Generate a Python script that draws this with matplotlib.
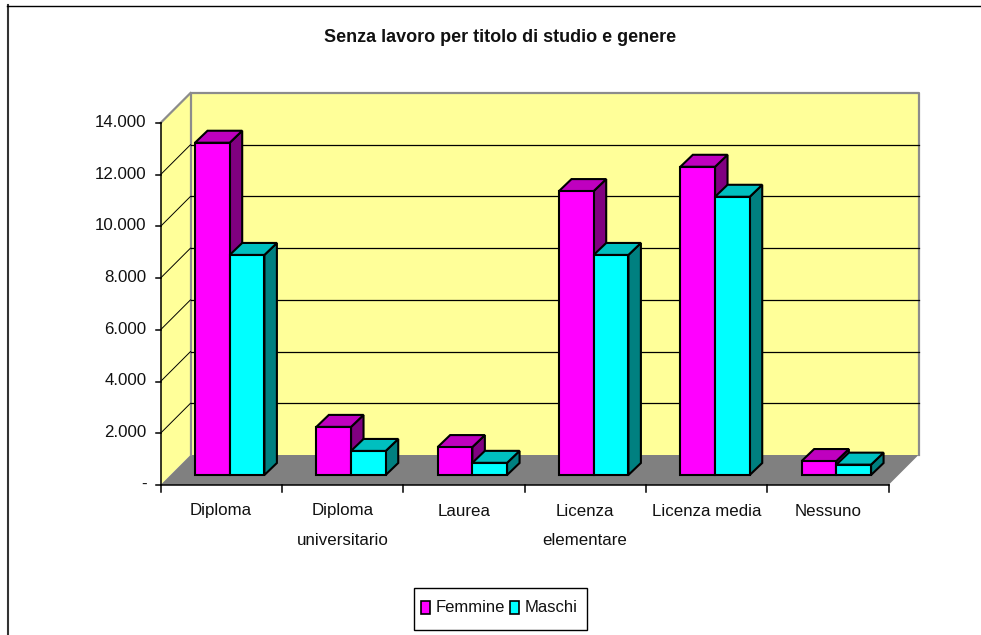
import matplotlib
matplotlib.use('Agg')
import matplotlib.pyplot as plt
from matplotlib.patches import Polygon, Rectangle

categorie = ['Diploma', 'Diploma\nuniversitario', 'Laurea', 'Licenza\nelementare', 'Licenza media', 'Nessuno']
femmine = [12850, 1860, 1080, 10980, 11920, 540]
maschi = [8510, 930, 470, 8510, 10760, 400]
tick_valori = [0, 2000, 4000, 6000, 8000, 10000, 12000, 14000]
tick_label = ['-', '2.000', '4.000', '6.000', '8.000', '10.000', '12.000', '14.000']

W, H = 981, 635
plt.rcParams['font.family'] = ['Liberation Sans', 'DejaVu Sans']

fig = plt.figure(figsize=(W / 100, H / 100), dpi=100)
# piano frontale del grafico, in pixel
left, right, top, bottom = 160.5, 888.5, 123, 485
ax = fig.add_axes([left / W, 1 - bottom / H, (right - left) / W, (bottom - top) / H])
ax.set_xlim(0, 6)
ax.set_ylim(0, 14000)
ax.axis('off')

# pixel -> unita dati
px = 6 / (right - left)
py = 14000 / (bottom - top)
dx, dy = 30 * px, 30 * py  # profondita pareti
bx, by = 12.5 * px, 12 * py  # profondita barre
base = 10 * py  # le barre stanno un po' dentro il pavimento


def poly(pts, color, lw=0.0, ec='black', z=1):
    ax.add_patch(Polygon(pts, closed=True, fc=color, ec=ec, lw=lw, zorder=z, clip_on=False, joinstyle='miter'))


# pareti e pavimento
poly([(0, 0), (dx, dy), (dx, 14000 + dy), (0, 14000)], '#ffff99')
poly([(dx, dy), (6 + dx, dy), (6 + dx, 14000 + dy), (dx, 14000 + dy)], '#ffff99')
poly([(0, 0), (6, 0), (6 + dx, dy), (dx, dy)], '#808080')
ax.plot([dx, dx, 6 + dx, 6 + dx], [dy, 14000 + dy, 14000 + dy, dy], color='#8c8c8c', lw=1.6, zorder=2, clip_on=False)
ax.plot([0, dx], [14000, 14000 + dy], color='#8c8c8c', lw=1.6, zorder=2, clip_on=False)
for v in tick_valori[1:-1]:
    ax.plot([0, dx], [v, v + dy], color='black', lw=0.7, zorder=2, clip_on=False)
    ax.plot([dx, 6 + dx], [v + dy, v + dy], color='black', lw=0.9, zorder=2, clip_on=False)

# assi
ax.plot([0, 0], [0, 14000], color='black', lw=1.1, zorder=3, clip_on=False)
ax.plot([0, 6], [0, 0], color='black', lw=1.1, zorder=3, clip_on=False)
for v, lab in zip(tick_valori, tick_label):
    ax.plot([-5 * px, 0], [v, v], color='black', lw=1.1, zorder=3, clip_on=False)
    ax.text(-14 * px, v + 0.7 * py, lab, ha='right', va='center', fontsize=12.2, color='#111111')
for i in range(7):
    ax.plot([i, i], [0, -6.5 * py], color='black', lw=1.1, zorder=3, clip_on=False)
for i, c in enumerate(categorie):
    ax.text(i + 0.5, -18.5 * py, c, ha='center', va='top', fontsize=12.2, color='#111111', linespacing=2.2)


def barra(x0, w, val, fronte, cima, lato, z):
    y0 = base
    y1 = base + val
    poly([(x0 + w, y0), (x0 + w + bx, y0 + by), (x0 + w + bx, y1 + by), (x0 + w, y1)], lato, 1.5, z=z)
    poly([(x0, y1), (x0 + w, y1), (x0 + w + bx, y1 + by), (x0 + bx, y1 + by)], cima, 1.5, z=z)
    poly([(x0, y0), (x0 + w, y0), (x0 + w, y1), (x0, y1)], fronte, 1.5, z=z)


larg = 34.7 * px
start = 34.5 * px
for i in range(len(categorie)):
    barra(i + start, larg, femmine[i], '#ff00ff', '#bf00bf', '#800080', 4 + i)
    barra(i + start + larg, larg, maschi[i], '#00ffff', '#00bfbf', '#008080', 4.5 + i)

# titolo
fig.text(500.5 / W, 1 - 37 / H, 'Senza lavoro per titolo di studio e genere', ha='center', va='center',
         fontsize=13, fontweight='bold', color='#111111')

# cornice esterna
fig.add_artist(plt.Line2D([8 / W, 8 / W], [0, 1 - 5 / H], color='#333333', lw=1.5))
fig.add_artist(plt.Line2D([7 / W, 1], [1 - 5.5 / H, 1 - 5.5 / H], color='black', lw=1.0))

# legenda
fig.add_artist(Rectangle((413.5 / W, 1 - 629.5 / H), 173 / W, 42 / H, transform=fig.transFigure, fc='white', ec='black', lw=1.0))
for x, col, nome in [(420.5, '#ff00ff', 'Femmine'), (509.5, '#00ffff', 'Maschi')]:
    fig.add_artist(Rectangle((x / W, 1 - 613.5 / H), 9 / W, 13 / H, transform=fig.transFigure, fc=col, ec='black', lw=1.2))
    fig.text((x + 15.5) / W, 1 - 607.5 / H, nome, ha='left', va='center', fontsize=12, color='#111111')

fig.savefig('out.png', dpi=100)
